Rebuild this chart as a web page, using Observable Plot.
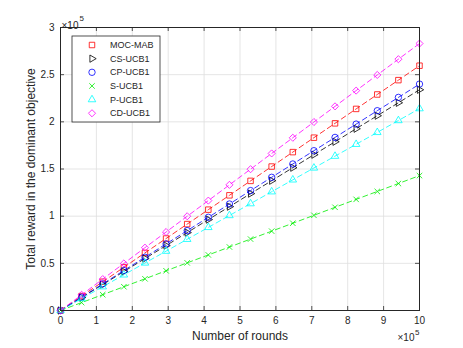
<!DOCTYPE html>
<html><head><meta charset="utf-8">
<script src="https://cdn.jsdelivr.net/npm/d3@7"></script>
<script src="https://cdn.jsdelivr.net/npm/@observablehq/plot@0.6"></script>
<style>
body{margin:0;background:#fff}
#chart{position:relative;width:463px;height:348px}
</style>
</head><body><div id="chart"></div>
<script>
// x: number of rounds (×10^5)
const rounds = [0, 0.588, 1.176, 1.765, 2.353, 2.941, 3.529, 4.118, 4.706, 5.294, 5.882, 6.471, 7.059, 7.647, 8.235, 8.824, 9.412, 10];
const seriesNames = ["MOC-MAB", "CS-UCB1", "CP-UCB1", "S-UCB1", "P-UCB1", "CD-UCB1"];
// y: total reward in the dominant objective (×10^5)
const mocMab = [0, 0.153, 0.305, 0.458, 0.611, 0.763, 0.916, 1.069, 1.221, 1.374, 1.526, 1.679, 1.832, 1.984, 2.137, 2.290, 2.442, 2.595];
const csUcb1 = [0, 0.138, 0.275, 0.413, 0.551, 0.688, 0.826, 0.964, 1.101, 1.239, 1.376, 1.514, 1.652, 1.789, 1.927, 2.065, 2.202, 2.340];
const cpUcb1 = [0, 0.141, 0.282, 0.424, 0.565, 0.706, 0.847, 0.988, 1.129, 1.271, 1.412, 1.553, 1.694, 1.835, 1.976, 2.118, 2.259, 2.400];
const sUcb1  = [0, 0.084, 0.168, 0.252, 0.336, 0.421, 0.505, 0.589, 0.673, 0.757, 0.841, 0.925, 1.009, 1.094, 1.178, 1.262, 1.346, 1.430];
const pUcb1  = [0, 0.126, 0.252, 0.378, 0.504, 0.629, 0.755, 0.881, 1.007, 1.133, 1.259, 1.385, 1.511, 1.636, 1.762, 1.888, 2.014, 2.140];
const cdUcb1 = [0, 0.166, 0.333, 0.499, 0.666, 0.832, 0.999, 1.165, 1.332, 1.498, 1.665, 1.831, 1.998, 2.164, 2.331, 2.497, 2.664, 2.830];
const seriesValues = [mocMab, csUcb1, cpUcb1, sUcb1, pUcb1, cdUcb1];

const xTicks = [0, 1, 2, 3, 4, 5, 6, 7, 8, 9, 10];
const xTickLabels = ["0", "1", "2", "3", "4", "5", "6", "7", "8", "9", "10"];
const yTicks = [0, 0.5, 1, 1.5, 2, 2.5, 3];
const yTickLabels = ["0", "0.5", "1", "1.5", "2", "2.5", "3"];
const xLabel = "Number of rounds";
const yLabel = "Total reward in the dominant objective";
const exponentBase = "×10";
const exponentPower = "5";

// styles
const colors = ["#ff0000", "#000000", "#0000ff", "#00ee00", "#00ffff", "#ff00ff"];
const symbolNames = ["square", "triangle", "circle", "times", "triangle", "diamond2"];
const d3Symbols = [d3.symbolSquare, d3.symbolTriangle, d3.symbolCircle, d3.symbolTimes, d3.symbolTriangle, d3.symbolDiamond2];
const rotations = [0, 90, 0, 0, 0, 0];
const radii = [3.1, 2.7, 3.2, 2.6, 2.8, 3.2];
const FONT = "'Liberation Sans', Arial, Helvetica, sans-serif";
const AXIS = "#262626";

const marks = [
  Plot.gridX(xTicks, {stroke: "#dedede", strokeOpacity: 1, strokeWidth: 0.8}),
  Plot.gridY(yTicks, {stroke: "#dedede", strokeOpacity: 1, strokeWidth: 0.8})
];
seriesValues.forEach((vals, k) => {
  const rows = rounds.map((x, i) => ({x, y: vals[i]}));
  marks.push(Plot.line(rows, {x: "x", y: "y", stroke: colors[k], strokeWidth: 0.8, strokeDasharray: "5,3.5"}));
  marks.push(Plot.dot(rows, {x: "x", y: "y", symbol: symbolNames[k], r: radii[k], rotate: rotations[k], stroke: colors[k], fill: "none", strokeWidth: 0.8}));
});
// inward ticks on all four sides (MATLAB box style)
const tx = 4 * 3 / 283, ty = 4 * 10 / 359;
marks.push(
  Plot.ruleX(xTicks, {x: d => d, y1: 0, y2: tx, stroke: AXIS, strokeWidth: 0.8}),
  Plot.ruleX(xTicks, {x: d => d, y1: 3, y2: 3 - tx, stroke: AXIS, strokeWidth: 0.8}),
  Plot.ruleY(yTicks, {y: d => d, x1: 0, x2: ty, stroke: AXIS, strokeWidth: 0.8}),
  Plot.ruleY(yTicks, {y: d => d, x1: 10, x2: 10 - ty, stroke: AXIS, strokeWidth: 0.8}),
  Plot.frame({stroke: AXIS, strokeWidth: 1}),
  Plot.axisX(xTicks, {tickSize: 0, tickPadding: 6, fontSize: 10, fill: AXIS, tickFormat: d => xTickLabels[xTicks.indexOf(d)], label: null}),
  Plot.axisY(yTicks, {tickSize: 0, tickPadding: 6, fontSize: 10, fill: AXIS, tickFormat: d => yTickLabels[yTicks.indexOf(d)], label: null}),
  Plot.text([xLabel], {text: d => d, frameAnchor: "bottom", textAnchor: "middle", dy: 29, fontSize: 12, fill: AXIS}),
  Plot.text([yLabel], {text: d => d, frameAnchor: "left", textAnchor: "middle", dx: -29, rotate: -90, fontSize: 12, fill: AXIS}),
  Plot.text([exponentBase], {text: d => d, frameAnchor: "top-left", textAnchor: "start", dx: 1, dy: -6, fontSize: 10, fill: AXIS}),
  Plot.text([exponentPower], {text: d => d, frameAnchor: "top-left", textAnchor: "start", dx: 19, dy: -12, fontSize: 8, fill: AXIS}),
  Plot.text([exponentBase], {text: d => d, frameAnchor: "bottom-right", textAnchor: "end", dx: -5, dy: 30, fontSize: 10, fill: AXIS}),
  Plot.text([exponentPower], {text: d => d, frameAnchor: "bottom-right", textAnchor: "end", dx: 0, dy: 24, fontSize: 8, fill: AXIS})
);

const plot = Plot.plot({
  width: 463, height: 348,
  marginLeft: 60, marginRight: 44, marginTop: 27, marginBottom: 38,
  style: {fontFamily: FONT, background: "#fff", overflow: "visible"},
  x: {domain: [0, 10]},
  y: {domain: [0, 3]},
  marks
});
document.getElementById("chart").appendChild(plot);

// legend
const svg = d3.select(plot);
const lg = {x: 72, y: 36, w: 88, h: 86, symX: 92, textX: 110, row0: 45, rowStep: 13.65};
const g = svg.append("g").attr("font-family", FONT).attr("text-anchor", "start");
g.append("rect").attr("x", lg.x).attr("y", lg.y).attr("width", lg.w).attr("height", lg.h)
  .attr("fill", "#fff").attr("stroke", AXIS).attr("stroke-width", 0.8);
seriesNames.forEach((name, k) => {
  const cy = lg.row0 + k * lg.rowStep;
  g.append("path")
    .attr("d", d3.symbol(d3Symbols[k], Math.PI * radii[k] * radii[k])())
    .attr("transform", `translate(${lg.symX},${cy}) rotate(${rotations[k]})`)
    .attr("fill", "none").attr("stroke", colors[k]).attr("stroke-width", 0.8);
  g.append("text").attr("x", lg.textX).attr("y", cy).attr("dy", "0.35em")
    .attr("text-anchor", "start")
    .attr("font-size", 9).attr("fill", AXIS).text(name);
});
</script>
</body></html>
